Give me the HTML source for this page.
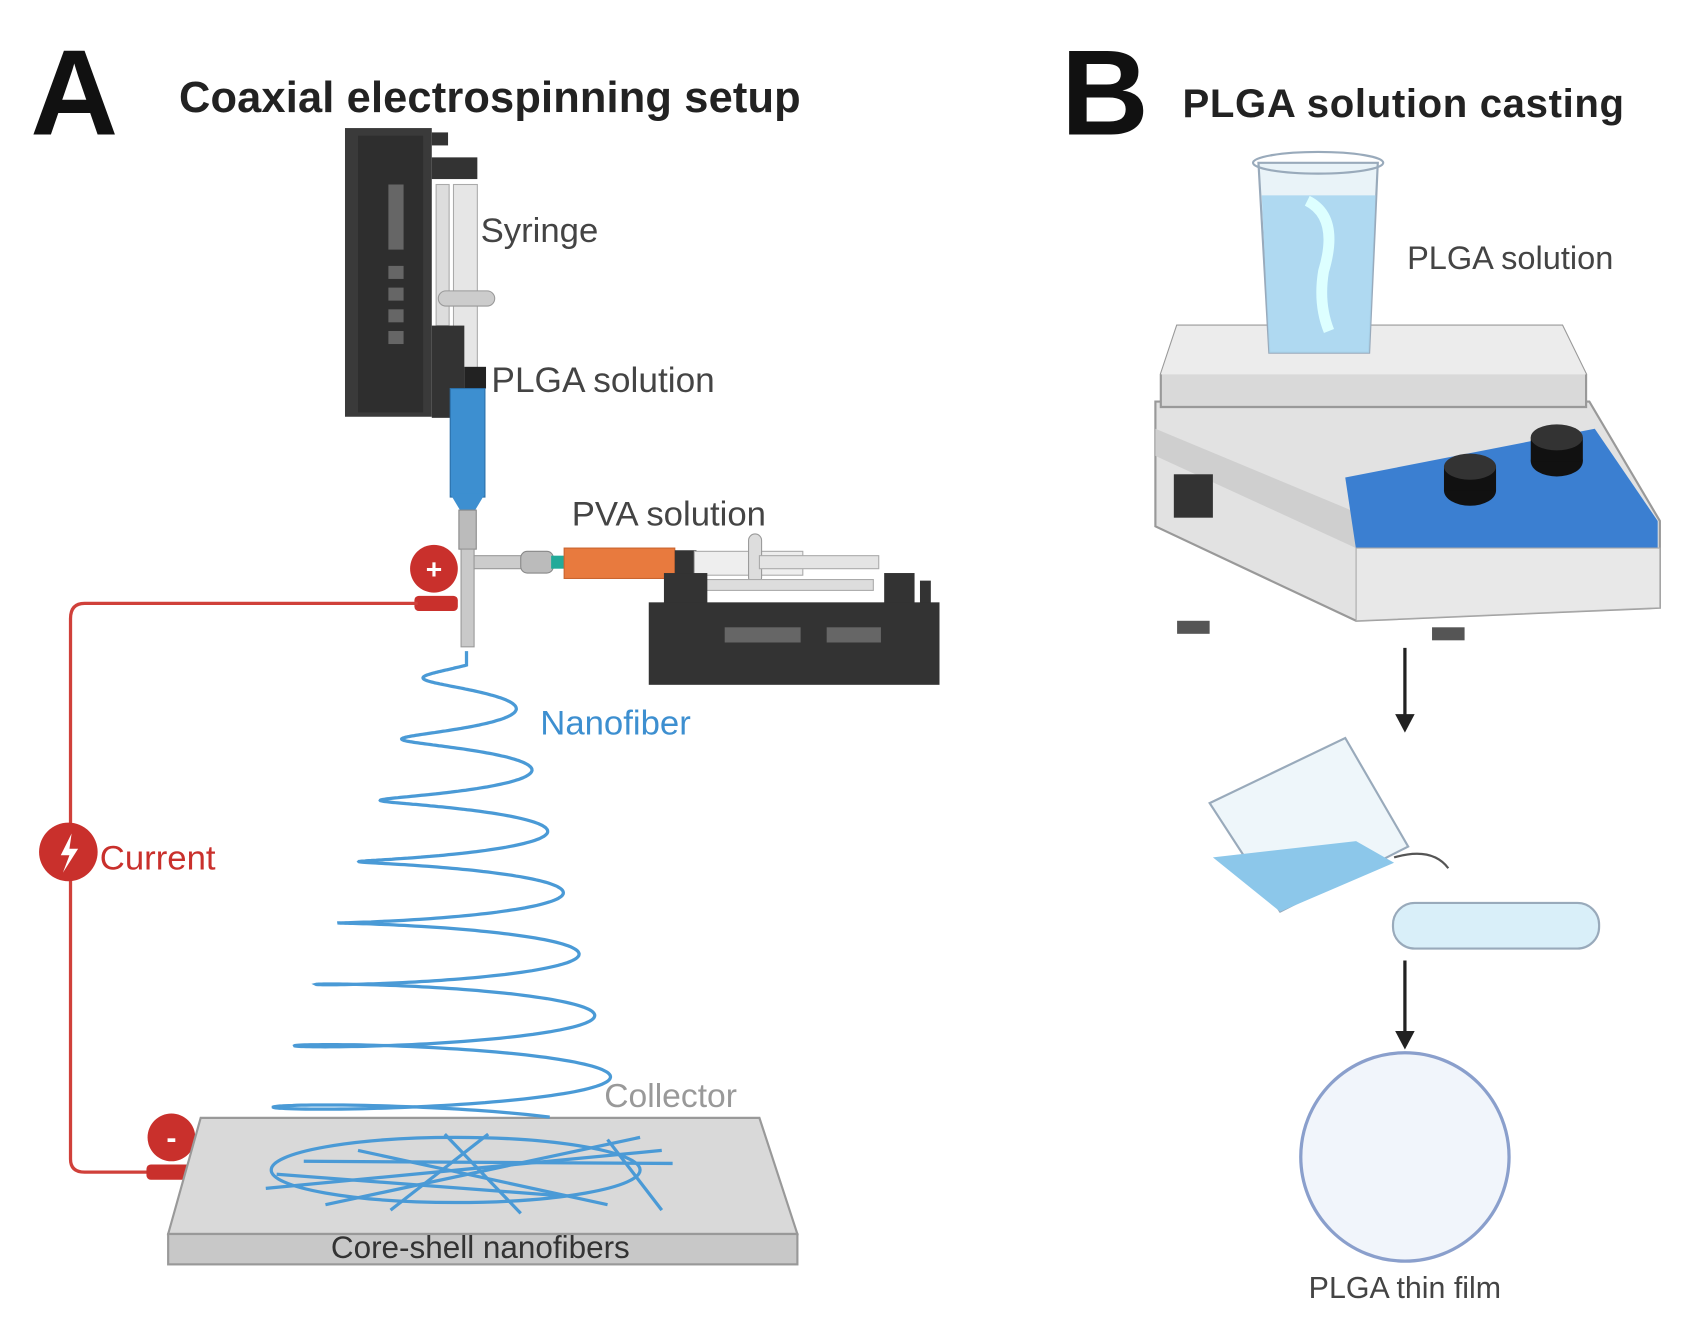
<!DOCTYPE html>
<html><head><meta charset="utf-8"><style>
html,body{margin:0;padding:0;background:#fff;}
svg{display:block;}
text{font-family:"Liberation Sans",Arial,sans-serif;}
</style></head><body>
<svg width="1700" height="1336" viewBox="0 0 1567 1231" preserveAspectRatio="none" xmlns="http://www.w3.org/2000/svg">
<rect width="1567" height="1231" fill="#fff"/>
<!-- Titles -->
<text x="28" y="124" font-size="112" font-weight="bold" fill="#111">A</text>
<text x="165" y="103" font-size="40" font-weight="bold" fill="#222" textLength="573">Coaxial electrospinning setup</text>
<text x="978" y="124" font-size="112" font-weight="bold" fill="#111">B</text>
<text x="1090" y="108" font-size="37" font-weight="bold" fill="#222" textLength="407">PLGA solution casting</text>

<!-- Vertical syringe pump -->
<rect x="318" y="118" width="80" height="266" fill="#3a3a3a"/>
<rect x="330" y="125" width="60" height="255" fill="#2e2e2e"/>
<rect x="398" y="122" width="15" height="12" fill="#333"/>
<rect x="398" y="145" width="42" height="20" fill="#333"/>
<rect x="358" y="170" width="14" height="60" fill="#666"/>
<rect x="358" y="245" width="14" height="12" fill="#666"/>
<rect x="358" y="265" width="14" height="12" fill="#666"/>
<rect x="358" y="285" width="14" height="12" fill="#666"/>
<rect x="358" y="305" width="14" height="12" fill="#666"/>
<rect x="402" y="170" width="12" height="130" fill="#ddd" stroke="#aaa"/>
<rect x="418" y="170" width="22" height="190" fill="#e6e6e6" stroke="#aaa"/>
<rect x="404" y="268" width="52" height="14" rx="7" fill="#ccc" stroke="#999"/>
<rect x="398" y="300" width="30" height="85" fill="#333"/>
<rect x="428" y="338" width="20" height="20" fill="#222"/>
<rect x="415" y="358" width="32" height="100" fill="#3d8fd0" stroke="#2b6fa8"/>
<path d="M415 455 L447 455 L438 470 L424 470 Z" fill="#3d8fd0"/>
<rect x="423" y="470" width="16" height="36" fill="#bbb" stroke="#888"/>
<rect x="425" y="506" width="12" height="90" fill="#c9c9c9" stroke="#999"/>
<rect x="437" y="512" width="60" height="12" fill="#ccc" stroke="#999"/>
<rect x="480" y="508" width="30" height="20" rx="6" fill="#bbb" stroke="#888"/>
<rect x="508" y="512" width="12" height="12" fill="#2a9"/>
<rect x="520" y="505" width="102" height="28" fill="#e87a3e" stroke="#c9642f"/>
<rect x="622" y="507" width="20" height="24" fill="#333"/>
<rect x="640" y="508" width="100" height="22" fill="#eee" stroke="#aaa"/>
<rect x="690" y="492" width="12" height="46" rx="6" fill="#ddd" stroke="#999"/>
<rect x="700" y="512" width="110" height="12" fill="#e4e4e4" stroke="#aaa"/>
<rect x="640" y="534" width="165" height="10" fill="#ddd" stroke="#aaa"/>
<!-- horizontal pump -->
<rect x="612" y="528" width="40" height="40" fill="#333"/>
<rect x="815" y="528" width="28" height="50" fill="#333"/>
<rect x="848" y="535" width="10" height="30" fill="#333"/>
<rect x="598" y="555" width="268" height="76" fill="#333"/>
<rect x="668" y="578" width="70" height="14" fill="#666"/>
<rect x="762" y="578" width="50" height="14" fill="#666"/>

<!-- plus terminal -->
<circle cx="400" cy="524" r="22" fill="#c9302c"/>
<text x="400" y="533" font-size="26" font-weight="bold" fill="#fff" text-anchor="middle">+</text>
<rect x="382" y="549" width="40" height="14" rx="4" fill="#c9302c"/>
<!-- wire -->
<path d="M385 556 L78 556 Q65 556 65 570 L65 1068 Q65 1080 78 1080 L140 1080" fill="none" stroke="#d0403a" stroke-width="3"/>
<circle cx="63" cy="785" r="27" fill="#c9302c"/>
<path d="M66 768 L56 788 L64 788 L58 804 L72 782 L64 782 Z" fill="#fff"/>
<text x="92" y="801" font-size="32" fill="#c9302c">Current</text>
<circle cx="158" cy="1048" r="22" fill="#c9302c"/>
<text x="158" y="1058" font-size="28" font-weight="bold" fill="#fff" text-anchor="middle">-</text>
<rect x="135" y="1073" width="48" height="14" rx="4" fill="#c9302c"/>

<!-- collector -->
<path d="M185 1030 L700 1030 L735 1137 L155 1137 Z" fill="#d9d9d9" stroke="#999" stroke-width="2"/>
<rect x="155" y="1137" width="580" height="28" fill="#c8c8c8" stroke="#999" stroke-width="2"/>
<g stroke="#4a9ad6" stroke-width="3" fill="none">
<line x1="245" y1="1095" x2="610" y2="1060"/><line x1="300" y1="1110" x2="590" y2="1048"/>
<line x1="330" y1="1060" x2="560" y2="1110"/><line x1="255" y1="1082" x2="520" y2="1102"/>
<line x1="410" y1="1045" x2="480" y2="1118"/><line x1="560" y1="1050" x2="610" y2="1115"/>
<line x1="360" y1="1115" x2="450" y2="1045"/><line x1="280" y1="1070" x2="620" y2="1072"/>
<ellipse cx="420" cy="1078" rx="170" ry="30"/>
</g>
<path id="sp" fill="none" stroke="#4a9ad6" stroke-width="3"/>
<text x="498" y="677" font-size="32" fill="#3d8fd0">Nanofiber</text>
<text x="557" y="1020" font-size="31" fill="#999">Collector</text>
<text x="305" y="1159" font-size="29" fill="#333">Core-shell nanofibers</text>
<text x="443" y="223" font-size="32" fill="#444">Syringe</text>
<text x="453" y="361" font-size="32.5" fill="#444">PLGA solution</text>
<text x="527" y="484" font-size="32" fill="#444">PVA solution</text>

<!-- Hotplate -->
<path d="M1065 370 L1465 370 L1530 480 L1530 560 L1250 572 L1065 485 Z" fill="#e2e2e2" stroke="#999" stroke-width="2"/>
<path d="M1065 395 L1245 470 L1470 430 L1520 480 L1250 505 L1065 420 Z" fill="#cfcfcf"/>
<path d="M1240 440 L1470 395 L1528 480 L1528 510 L1255 540 Z" fill="#3b7fd1"/>
<path d="M1250 505 L1250 572 L1530 560 L1530 505 Z" fill="#e8e8e8" stroke="#aaa"/>
<path d="M1085 300 L1440 300 L1462 345 L1462 375 L1070 375 L1070 345 Z" fill="#d9d9d9" stroke="#999" stroke-width="2"/>
<path d="M1085 300 L1440 300 L1462 345 L1070 345 Z" fill="#ececec"/>
<rect x="1082" y="437" width="36" height="40" fill="#333"/>
<ellipse cx="1355" cy="452" rx="24" ry="14" fill="#111"/><rect x="1331" y="430" width="48" height="22" fill="#111"/><ellipse cx="1355" cy="430" rx="24" ry="12" fill="#333"/>
<ellipse cx="1435" cy="425" rx="24" ry="14" fill="#111"/><rect x="1411" y="403" width="48" height="22" fill="#111"/><ellipse cx="1435" cy="403" rx="24" ry="12" fill="#333"/>
<rect x="1085" y="572" width="30" height="12" fill="#555"/><rect x="1320" y="578" width="30" height="12" fill="#555"/>
<!-- beaker -->
<path d="M1160 150 L1270 150 L1262 325 L1170 325 Z" fill="#e9f3f8" stroke="#9ab" stroke-width="2"/>
<path d="M1163 180 L1268 180 L1262 325 L1170 325 Z" fill="#a8d6ef" opacity="0.9"/>
<ellipse cx="1215" cy="150" rx="60" ry="10" fill="none" stroke="#9ab" stroke-width="2"/>
<path d="M1205 185 Q1235 200 1220 250 Q1215 280 1225 305" fill="none" stroke="#dff" stroke-width="10"/>
<text x="1297" y="248" font-size="30" fill="#444">PLGA solution</text>
<!-- arrows -->
<g stroke="#222" stroke-width="3"><line x1="1295" y1="597" x2="1295" y2="662"/><line x1="1295" y1="885" x2="1295" y2="953"/></g>
<path d="M1286 658 L1304 658 L1295 675 Z M1286 950 L1304 950 L1295 967 Z" fill="#222"/>
<!-- pouring beaker -->
<path d="M1115 740 L1240 680 L1298 780 L1180 840 Z" fill="#eef6fa" stroke="#9ab" stroke-width="2"/>
<path d="M1118 790 L1250 775 L1285 795 L1180 840 Z" fill="#8cc7ea"/>
<path d="M1285 790 Q1320 780 1335 800" fill="none" stroke="#555" stroke-width="2"/>
<rect x="1284" y="832" width="190" height="42" rx="20" fill="#d9eff9" stroke="#9ab" stroke-width="2"/>
<!-- film -->
<circle cx="1295" cy="1066" r="96" fill="#f1f5fb" stroke="#8a9fcc" stroke-width="3"/>
<text x="1295" y="1196" font-size="28" fill="#444" text-anchor="middle">PLGA thin film</text>
</svg>
<script>
var d="M430 600";
for(var t=0;t<=7.6*Math.PI*2;t+=0.05){
 var f=t/(7.6*Math.PI*2);
 var y=610+f*430, r=35+f*130, c=430-f*20;
 var x=c+r*Math.sin(t+Math.PI);
 y+= r*0.08*Math.cos(t);
 d+=" L"+x.toFixed(1)+" "+y.toFixed(1);
}
document.getElementById("sp").setAttribute("d",d);
</script>
</body></html>
